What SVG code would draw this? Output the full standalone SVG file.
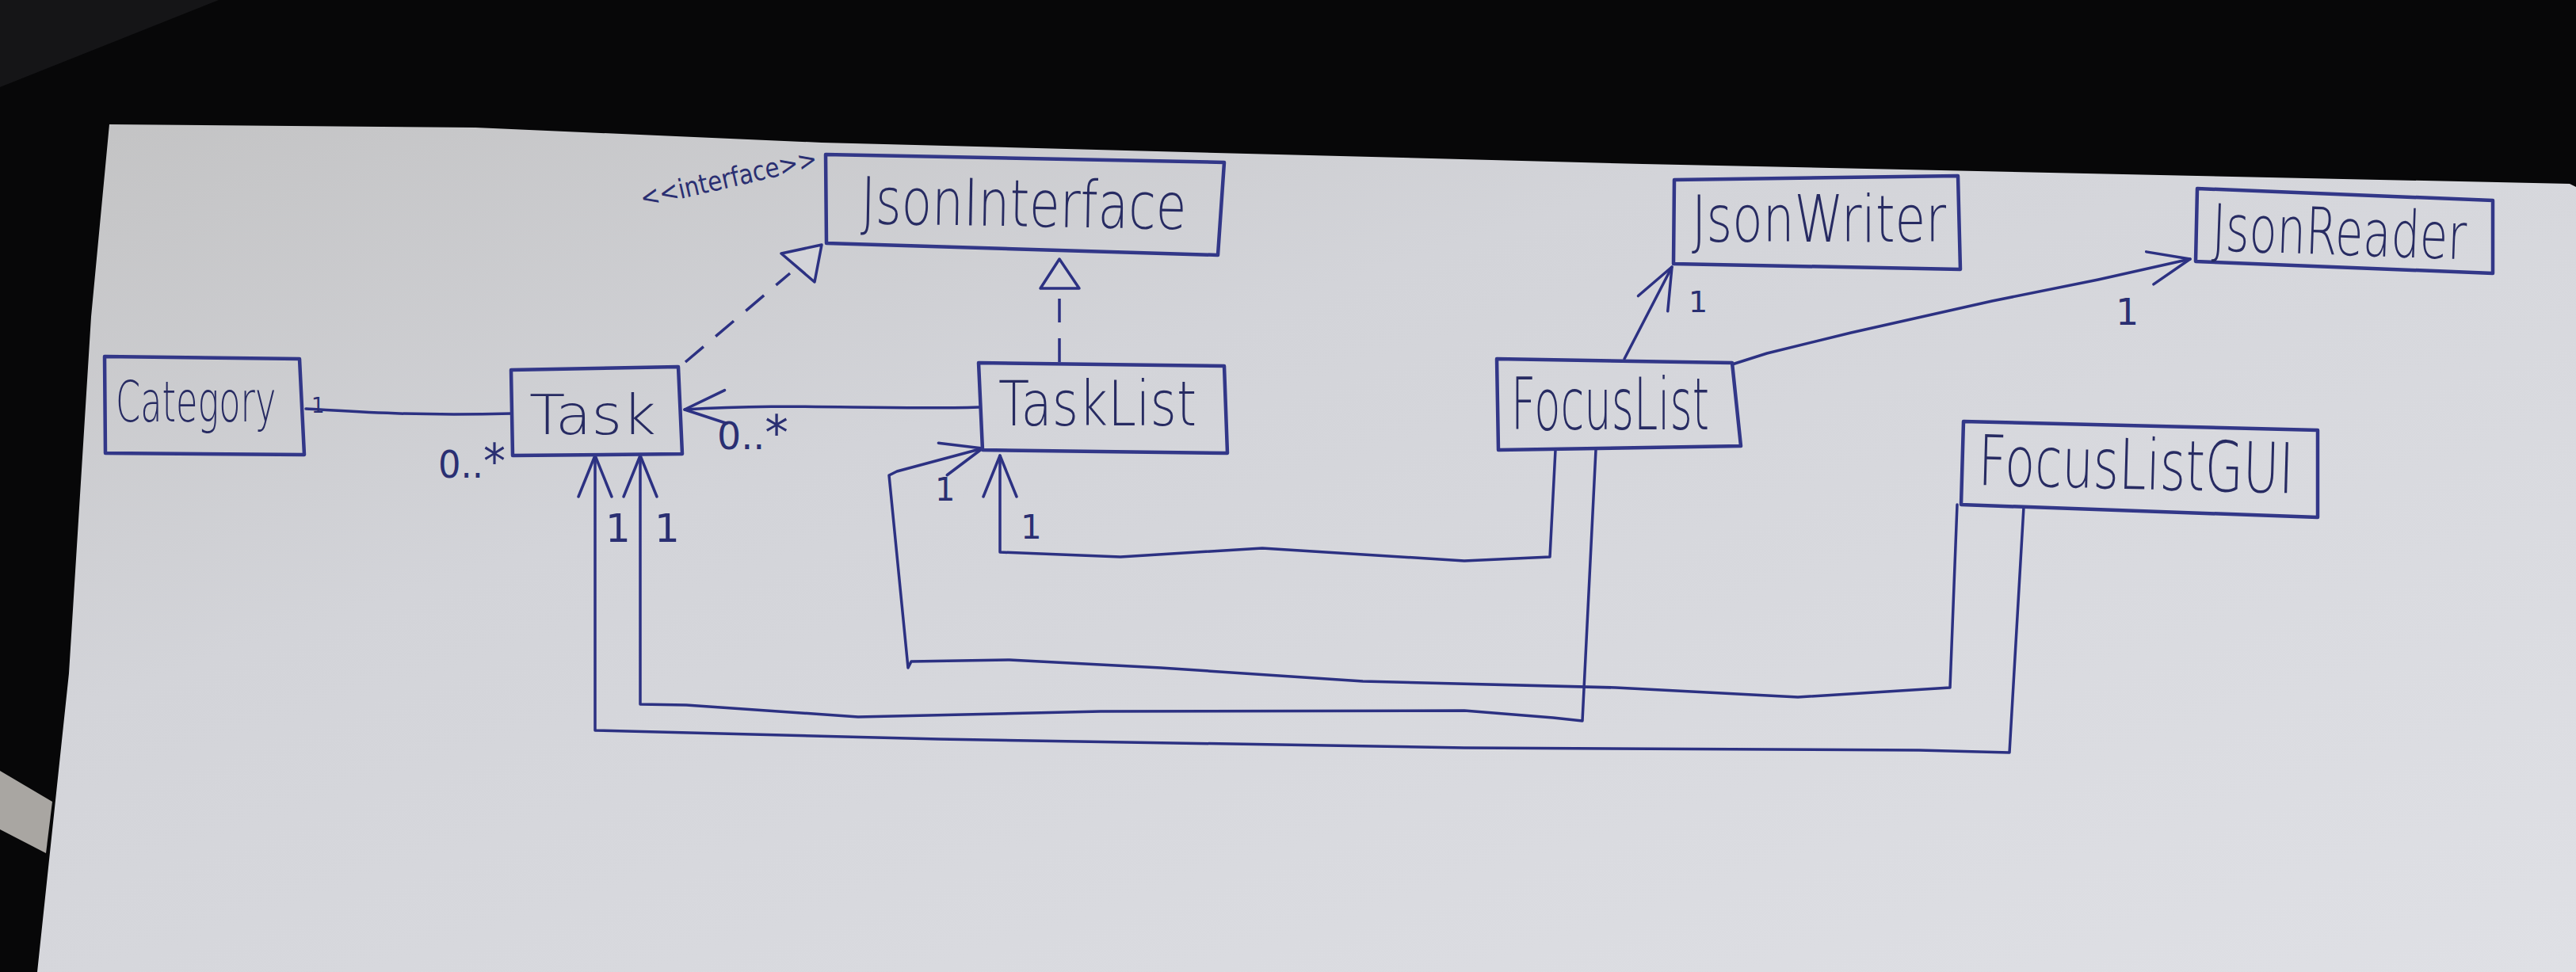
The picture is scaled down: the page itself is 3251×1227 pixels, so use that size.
<svg xmlns="http://www.w3.org/2000/svg" width="3251" height="1227" viewBox="0 0 3251 1227">
<defs>
<linearGradient id="paper" x1="0" y1="0" x2="1" y2="1">
<stop offset="0" stop-color="#c3c3c4"/>
<stop offset="0.35" stop-color="#d3d4d9"/>
<stop offset="1" stop-color="#dfe0e5"/>
</linearGradient>
<marker id="open" markerUnits="userSpaceOnUse" viewBox="-70 -35 80 70" markerWidth="80" markerHeight="70" refX="0" refY="0" orient="auto" overflow="visible">
<path d="M-52,-21 L0,0 L-52,21" fill="none" stroke="#2c3182" stroke-width="3.5" stroke-linecap="round" stroke-linejoin="round"/>
</marker>
<style>
.box{fill:none;stroke:#323788;stroke-width:4.5;stroke-linejoin:round}
.ln{fill:none;stroke:#2c3182;stroke-width:3.5;stroke-linejoin:round;stroke-linecap:round}
.dash{fill:none;stroke:#2c3182;stroke-width:3.5;stroke-dasharray:30 20}
.tri{fill:#d3d4d9;stroke:#2c3182;stroke-width:3.5;stroke-linejoin:round}
.nm{font-family:"DejaVu Sans","Liberation Sans",sans-serif;font-weight:200;fill:#272b62}
.lb{font-family:"DejaVu Sans","Liberation Sans",sans-serif;font-weight:400;fill:#2a2f72}
</style>
</defs>
<rect width="3251" height="1227" fill="#070708"/>
<polygon points="0,0 276,0 0,110" fill="#151517"/>
<polygon points="138,157 600,161 1037,180 2073,207 3243,232 3251,236 3251,1227 47,1227 87,850 115,400" fill="url(#paper)"/>
<polygon points="0,973 66,1012 58,1077 0,1047" fill="#a9a6a2"/>

<g id="connectors">
<path class="ln" d="M386,516 C450,520 520,525 646,522"/>
<path class="ln" d="M1236,514 C1100,518 1000,508 864,517" marker-end="url(#open)"/>
<path class="dash" d="M865,457 L997,345"/>
<polygon class="tri" points="986,320 1037,309 1028,356"/>
<path class="dash" d="M1337,457 L1337,364"/>
<polygon class="tri" points="1337,327 1313,364 1362,364"/>
<path class="ln" d="M2050,453 L2110,337" marker-end="url(#open)"/>
<path class="ln" d="M2186,460 L2230,446 L2336,420 L2514,380 L2648,353 L2764,327" marker-end="url(#open)"/>
<path class="ln" d="M2554,640 L2536,950 L2422,947 L1848,944 L1185,933 L751,922 L751,575" marker-end="url(#open)"/>
<path class="ln" d="M2014,568 L1997,910 L1960,906 L1848,897 L1389,898 L1083,905 L866,890 L808,889 L808,575" marker-end="url(#open)"/>
<path class="ln" d="M2470,637 L2461,868 L2269,880 L2039,868 L1720,860 L1465,843 L1274,833 L1150,835 L1146,843 L1122,600 L1132,595 L1240,566" marker-end="url(#open)"/>
<path class="ln" d="M1963,568 L1956,703 L1848,708 L1593,692 L1414,703 L1262,697 L1262,575" marker-end="url(#open)"/>
<text class="lb" x="393" y="521" font-size="26">1</text>
<text class="lb" x="553" y="603" font-size="48" textLength="85" lengthAdjust="spacingAndGlyphs">0..<tspan font-size="60">*</tspan></text>
<text class="lb" x="905" y="567" font-size="48" textLength="90" lengthAdjust="spacingAndGlyphs">0..<tspan font-size="60">*</tspan></text>
<text class="lb" x="764" y="684" font-size="50">1</text>
<text class="lb" x="826" y="684" font-size="50">1</text>
<text class="lb" x="1180" y="632" font-size="40">1</text>
<text class="lb" x="1288" y="680" font-size="42">1</text>
<text class="lb" x="2131" y="394" font-size="38">1</text>
<text class="lb" x="2670" y="410" font-size="46">1</text>
</g>

<g id="category">
<polygon class="box" points="132,450 378,453 384,574 133,572"/>
<text class="nm" x="0" y="0" font-size="72" transform="translate(146 532) scale(0.62 1)">Category</text>
</g>
<g id="task">
<polygon class="box" points="645,467 856,463 861,573 647,575"/>
<text class="nm" x="668" y="548" font-size="70" textLength="160" lengthAdjust="spacingAndGlyphs">Task</text>
</g>
<g id="jsoninterface">
<polygon class="box" points="1042,195 1545,205 1537,322 1043,307"/>
<text class="nm" x="1086" y="282" font-size="82" textLength="411" lengthAdjust="spacingAndGlyphs" transform="rotate(1 1086 282)">JsonInterface</text>
<text class="lb" x="811" y="262" font-size="34" textLength="228" lengthAdjust="spacingAndGlyphs" transform="rotate(-13 811 262)">&lt;&lt;interface&gt;&gt;</text>
</g>
<g id="tasklist">
<polygon class="box" points="1235,458 1545,462 1549,572 1240,568"/>
<text class="nm" x="1260" y="537" font-size="78" textLength="250" lengthAdjust="spacingAndGlyphs">TaskList</text>
</g>
<g id="focuslist">
<polygon class="box" points="1889,453 2186,458 2197,563 1891,568"/>
<text class="nm" x="1907" y="542" font-size="90" textLength="250" lengthAdjust="spacingAndGlyphs">FocusList</text>
</g>
<g id="jsonwriter">
<polygon class="box" points="2113,227 2471,222 2474,340 2112,333"/>
<text class="nm" x="2135" y="305" font-size="82" textLength="321" lengthAdjust="spacingAndGlyphs">JsonWriter</text>
</g>
<g id="jsonreader">
<polygon class="box" points="2773,238 3146,253 3146,345 2771,330"/>
<text class="nm" x="2791" y="316" font-size="82" textLength="321" lengthAdjust="spacingAndGlyphs" transform="rotate(2 2791 316)">JsonReader</text>
</g>
<g id="focuslistgui">
<polygon class="box" points="2478,532 2925,543 2925,653 2475,637"/>
<text class="nm" x="2496" y="612" font-size="88" textLength="398" lengthAdjust="spacingAndGlyphs" transform="rotate(1.5 2496 612)">FocusListGUI</text>
</g>
</svg>
